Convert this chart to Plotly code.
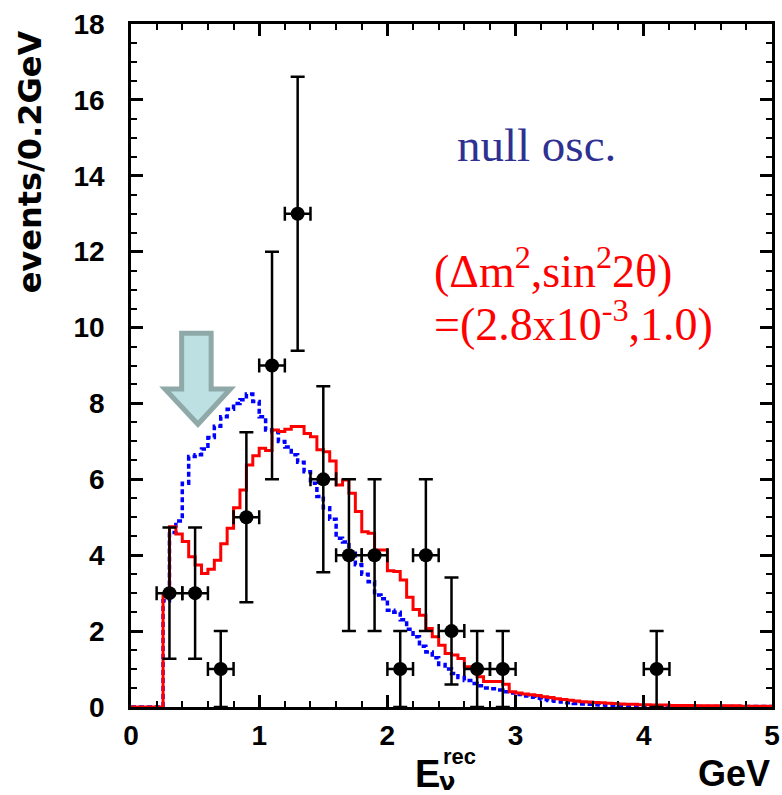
import plotly.graph_objects as go

# ---------------- data ----------------
BIN_WIDTH = 0.05   # GeV, width of the MC histogram bins
N_BINS = 100       # 0 - 5 GeV

# oscillated expectation (dm2, sin^2 2theta) = (2.8e-3, 1.0), per 0.05 GeV bin starting at 0.00
red_osc = [
    0, 0, 0, 0, 0,
    2.95, 4.75, 4.56, 4.36, 3.96, 3.74, 3.52, 3.63, 3.87, 4.30,
    4.71, 5.25, 5.72, 6.38, 6.62, 6.82, 6.76, 7.30, 7.26, 7.32,
    7.39, 7.39, 7.21, 7.12, 6.78, 6.73, 6.48, 5.85, 5.98, 5.63,
    5.15, 4.62, 4.58, 4.14, 4.14, 3.59, 3.57, 3.35, 2.89, 2.57,
    2.42, 2.07, 1.85, 1.63, 1.41, 1.37, 1.28, 1.06, 1.02, 0.80,
    0.67, 0.67, 0.67, 0.60, 0.40, 0.37, 0.34, 0.32, 0.30, 0.27,
    0.25, 0.22, 0.20, 0.18, 0.16, 0.14, 0.13, 0.12, 0.11, 0.10,
    0.09, 0.08, 0.07, 0.07, 0.06, 0.06, 0.05, 0.05, 0.05,
    0.04, 0.04, 0.04, 0.04, 0.03, 0.03, 0.03, 0.03, 0.03, 0.03, 0.03,
    0.02, 0.02, 0.02, 0.02, 0.02,
]

# null oscillation expectation
blue_null = [
    0, 0, 0, 0, 0,
    2.8, 4.6, 4.9, 5.9, 6.6, 6.65, 6.8, 7.1, 7.4, 7.65,
    7.85, 8.0, 8.1, 8.25, 8.05, 7.65, 7.3, 7.25, 7.0, 6.85,
    6.65, 6.45, 6.2, 5.9, 5.55, 5.25, 4.95, 4.45, 4.35, 4.05,
    3.75, 3.5, 3.3, 2.95, 2.85, 2.55, 2.5, 2.3, 2.05, 1.85,
    1.6, 1.45, 1.3, 1.12, 1.0, 0.88, 0.78, 0.7, 0.62, 0.56,
    0.5, 0.48, 0.45, 0.4, 0.37, 0.33, 0.29, 0.26, 0.23, 0.2,
    0.17, 0.15, 0.13, 0.11, 0.09, 0.08, 0.07, 0.06, 0.05, 0.04,
    0.04, 0.03, 0.03, 0.03, 0.02,
    0.02, 0.02, 0.02, 0.02, 0.02, 0.02,
    0.01, 0.01, 0.01, 0.01, 0.01, 0.01, 0.01, 0.01, 0.01, 0.01, 0.01, 0.01, 0.01, 0.01,
]

# observed events (0.2 GeV bins)
data_e = [0.3, 0.5, 0.7, 0.9, 1.1, 1.3, 1.5, 1.7, 1.9, 2.1, 2.3, 2.5, 2.7, 2.9, 4.1]
data_n = [3, 3, 1, 5, 9, 13, 6, 4, 4, 1, 4, 2, 1, 1, 1]
data_err = [1.73, 1.73, 1.0, 2.24, 3.0, 3.61, 2.45, 2.0, 2.0, 1.0, 2.0, 1.41, 1.0, 1.0, 1.0]
data_xerr = [0.1] * len(data_e)

x_ticks = [0, 1, 2, 3, 4, 5]
y_ticks = [0, 2, 4, 6, 8, 10, 12, 14, 16, 18]

assert len(red_osc) == N_BINS and len(blue_null) == N_BINS, (len(red_osc), len(blue_null))

edges = [round(i * BIN_WIDTH, 4) for i in range(N_BINS + 1)]


def step(vals):
    return edges, list(vals) + [vals[-1]]


fig = go.Figure()

bx, by = step(blue_null)
fig.add_trace(go.Scatter(x=bx, y=by, mode="lines", line_shape="hv",
                         line=dict(color="#0000ff", width=3.5, dash="5px,3px"),
                         showlegend=False, hoverinfo="skip"))
rx, ry = step(red_osc)
fig.add_trace(go.Scatter(x=rx, y=ry, mode="lines", line_shape="hv",
                         line=dict(color="#ff0000", width=3),
                         showlegend=False, hoverinfo="skip"))
fig.add_trace(go.Scatter(
    x=data_e, y=data_n, mode="markers",
    marker=dict(color="black", size=14),
    error_y=dict(type="data", array=data_err, color="black", thickness=2.5, width=7),
    error_x=dict(type="data", array=data_xerr, color="black", thickness=2.5, width=7),
    showlegend=False))

# arrow
arrow = [(0.395, 9.85), (0.625, 9.85), (0.625, 8.38), (0.775, 8.38), (0.522, 7.45),
         (0.265, 8.38), (0.395, 8.38)]
path = "M " + " L ".join(f"{x},{y}" for x, y in arrow) + " Z"
fig.add_shape(type="path", path=path, xref="x", yref="y",
              fillcolor="#bde0e3", line=dict(color="#8fa8a8", width=5))

serif = "Liberation Serif"
fig.add_annotation(x=2.527, y=14.81, xref="x", yref="y", text="null osc.",
                   showarrow=False, xanchor="left", yanchor="middle",
                   font=dict(family=serif, size=47, color="#2e3192"))
fig.add_annotation(x=2.35, y=11.57, xref="x", yref="y",
                   text="(Δm<sup>2</sup>,sin<sup>2</sup>2θ)",
                   showarrow=False, xanchor="left", yanchor="middle",
                   font=dict(family=serif, size=46, color="#ff0000"))
fig.add_annotation(x=2.35, y=10.16, xref="x", yref="y",
                   text="=(2.8x10<sup>-3</sup>,1.0)",
                   showarrow=False, xanchor="left", yanchor="middle",
                   font=dict(family=serif, size=46, color="#ff0000"))

bold = dict(family="DejaVu Sans", weight="bold", color="black")
sansb = dict(family="Liberation Sans", weight="bold", color="black")
fig.add_annotation(x=-0.157, y=0.798, xref="paper", yref="paper", text="events/0.2GeV",
                   textangle=-90, showarrow=False, xanchor="center", yanchor="middle",
                   font=dict(size=32, **bold))
fig.add_annotation(x=0.440, y=-0.098, xref="paper", yref="paper", text="E",
                   showarrow=False, xanchor="left", yanchor="middle", font=dict(size=38, **sansb))
fig.add_annotation(x=0.484, y=-0.072, xref="paper", yref="paper", text="rec",
                   showarrow=False, xanchor="left", yanchor="middle", font=dict(size=22, **sansb))
fig.add_annotation(x=0.478, y=-0.110, xref="paper", yref="paper", text="ν",
                   showarrow=False, xanchor="left", yanchor="middle", font=dict(size=24, **bold))
fig.add_annotation(x=1.0, y=-0.098, xref="paper", yref="paper", text="GeV",
                   showarrow=False, xanchor="right", yanchor="middle", font=dict(size=36, **sansb))

axis_common = dict(showline=True, linecolor="black", linewidth=2.5, mirror="ticks",
                   ticks="inside", ticklen=12, tickwidth=2.5, tickcolor="black",
                   showgrid=False, zeroline=False, automargin=False,
                   tickfont=dict(size=28, **sansb))
fig.update_xaxes(range=[0, 5], tickvals=x_ticks, ticktext=[str(t) for t in x_ticks],
                 minor=dict(ticks="inside", dtick=0.2, ticklen=6, tickwidth=2, tickcolor="black"),
                 ticklabelstandoff=2, **axis_common)
fig.update_yaxes(range=[0, 18], tickvals=y_ticks, ticktext=[str(t) for t in y_ticks],
                 minor=dict(ticks="inside", dtick=0.5, ticklen=6, tickwidth=2, tickcolor="black"),
                 ticklabelstandoff=18, **axis_common)

fig.update_layout(width=782, height=795, margin=dict(l=131, r=10, t=24, b=88),
                  plot_bgcolor="white", paper_bgcolor="white")

fig.write_html("out.html")
